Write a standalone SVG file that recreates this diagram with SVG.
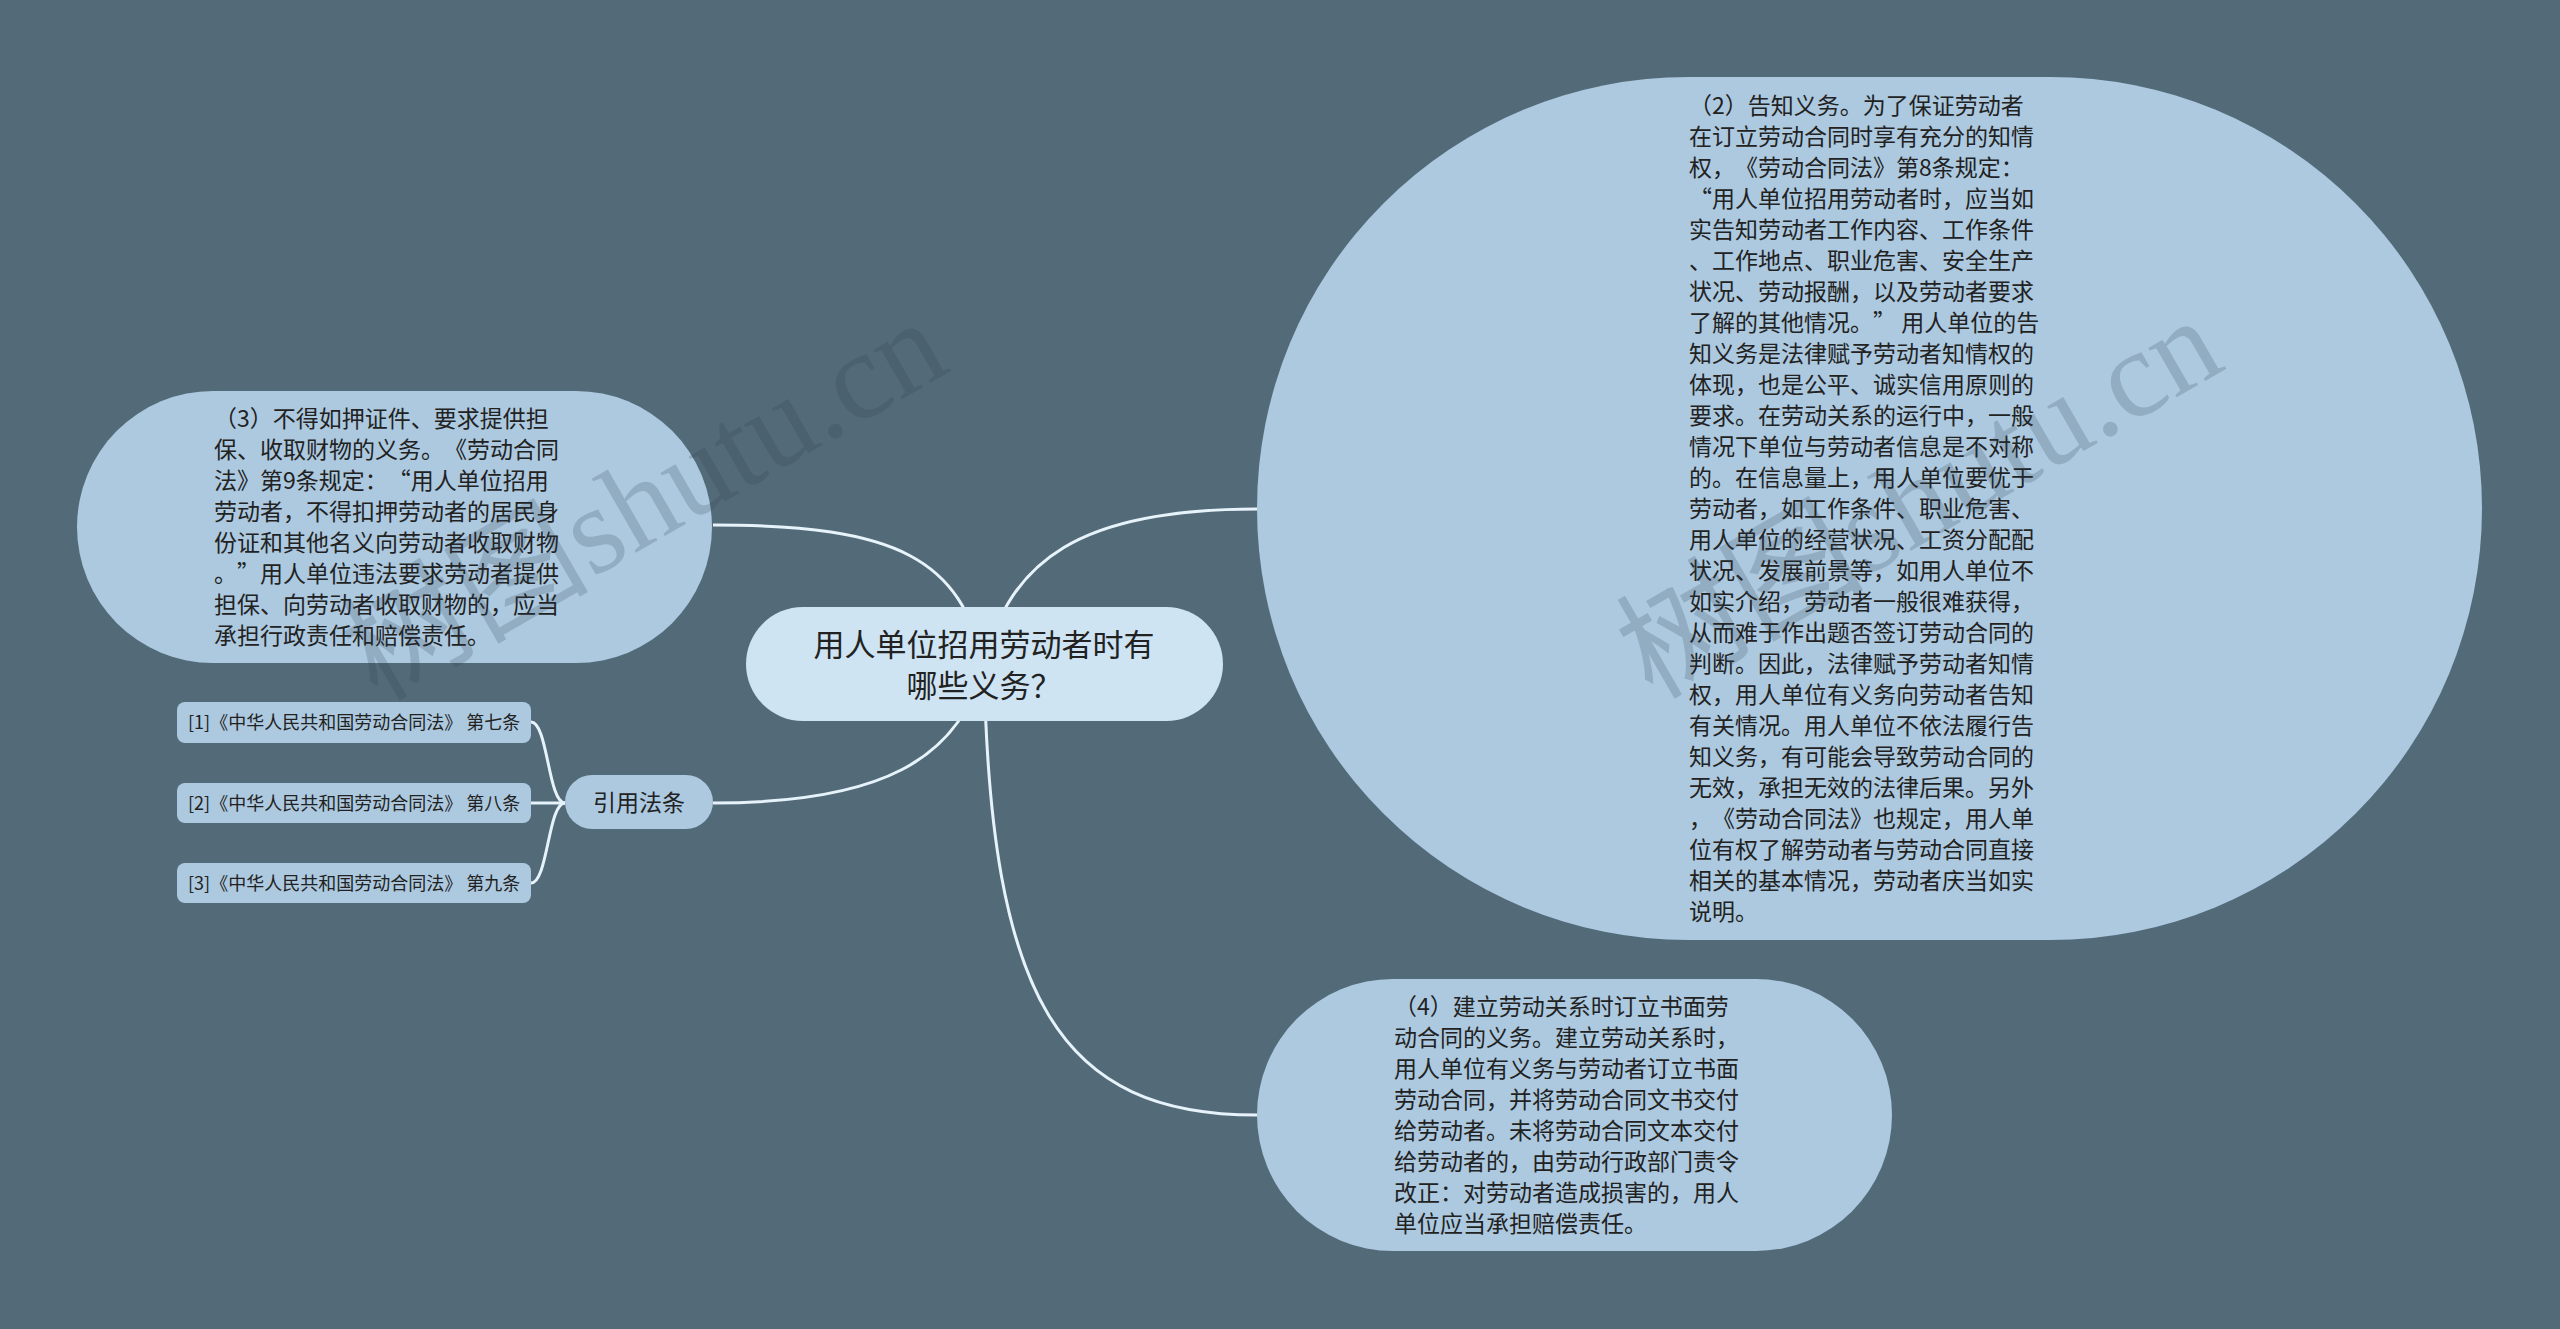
<svg xmlns="http://www.w3.org/2000/svg" width="2560" height="1329" viewBox="0 0 2560 1329">
<style>
.bg{fill:#536a79}
.node{fill:#acc9e0}
.root{fill:#cee4f2}
text{text-spacing-trim:space-all}
.t{font-family:"Noto Sans CJK SC","Noto Sans",sans-serif;fill:#222;font-size:23px}
.rt{font-family:"Noto Sans CJK SC","Noto Sans",sans-serif;fill:#222;font-size:31px}
.ref{font-family:"Noto Sans CJK SC","Noto Sans",sans-serif;fill:#222;font-size:18px}
.link{fill:none;stroke:#e6f3fa;stroke-width:3}
.wm{font-family:"Liberation Serif","Noto Sans CJK SC",serif;font-size:124px;fill:#2c3e50;opacity:0.2}
</style>
<rect class="bg" x="0" y="0" width="2560" height="1329"/>
<g id="connectors">
<path class="link" d="M984,664 C960,560 900,525 713,525"/>
<path class="link" d="M984,664 C1010,560 1080,509 1257,509"/>
<path class="link" d="M984,664 C990,1000 1060,1115 1257,1115"/>
<path class="link" d="M984,664 C960,760 880,803 713,803"/>
<path class="link" d="M565,803 C548,803 548,722 531,722"/>
<path class="link" d="M565,803 L531,803"/>
<path class="link" d="M565,803 C548,803 548,883 531,883"/>
</g>
<g id="node-root">
<rect class="root" x="746" y="607" width="477" height="114" rx="57"/>
<text class="rt" x="984" y="656" text-anchor="middle">用人单位招用劳动者时有</text>
<text class="rt" x="984" y="697" text-anchor="middle">哪些义务？</text>
</g>
<g id="node-2">
<rect class="node" x="1257" y="77" width="1225" height="863" rx="431.5"/>
<text class="t">
<tspan x="1689" y="114">（2）告知义务。为了保证劳动者</tspan>
<tspan x="1689" y="145">在订立劳动合同时享有充分的知情</tspan>
<tspan x="1689" y="176">权，《劳动合同法》第8条规定：</tspan>
<tspan x="1689" y="207">“用人单位招用劳动者时，应当如</tspan>
<tspan x="1689" y="238">实告知劳动者工作内容、工作条件</tspan>
<tspan x="1689" y="269">、工作地点、职业危害、安全生产</tspan>
<tspan x="1689" y="300">状况、劳动报酬，以及劳动者要求</tspan>
<tspan x="1689" y="331">了解的其他情况。” 用人单位的告</tspan>
<tspan x="1689" y="362">知义务是法律赋予劳动者知情权的</tspan>
<tspan x="1689" y="393">体现，也是公平、诚实信用原则的</tspan>
<tspan x="1689" y="424">要求。在劳动关系的运行中，一般</tspan>
<tspan x="1689" y="455">情况下单位与劳动者信息是不对称</tspan>
<tspan x="1689" y="486">的。在信息量上，用人单位要优于</tspan>
<tspan x="1689" y="517">劳动者，如工作条件、职业危害、</tspan>
<tspan x="1689" y="548">用人单位的经营状况、工资分配配</tspan>
<tspan x="1689" y="579">状况、发展前景等，如用人单位不</tspan>
<tspan x="1689" y="610">如实介绍，劳动者一般很难获得，</tspan>
<tspan x="1689" y="641">从而难于作出题否签订劳动合同的</tspan>
<tspan x="1689" y="672">判断。因此，法律赋予劳动者知情</tspan>
<tspan x="1689" y="703">权，用人单位有义务向劳动者告知</tspan>
<tspan x="1689" y="734">有关情况。用人单位不依法履行告</tspan>
<tspan x="1689" y="765">知义务，有可能会导致劳动合同的</tspan>
<tspan x="1689" y="796">无效，承担无效的法律后果。另外</tspan>
<tspan x="1689" y="827">，《劳动合同法》也规定，用人单</tspan>
<tspan x="1689" y="858">位有权了解劳动者与劳动合同直接</tspan>
<tspan x="1689" y="889">相关的基本情况，劳动者庆当如实</tspan>
<tspan x="1689" y="920">说明。</tspan>
</text>
</g>
<g id="node-3">
<rect class="node" x="77" y="391" width="635" height="272" rx="136"/>
<text class="t">
<tspan x="214" y="427">（3）不得如押证件、要求提供担</tspan>
<tspan x="214" y="458">保、收取财物的义务。《劳动合同</tspan>
<tspan x="214" y="489">法》第9条规定：“用人单位招用</tspan>
<tspan x="214" y="520">劳动者，不得扣押劳动者的居民身</tspan>
<tspan x="214" y="551">份证和其他名义向劳动者收取财物</tspan>
<tspan x="214" y="582">。”用人单位违法要求劳动者提供</tspan>
<tspan x="214" y="613">担保、向劳动者收取财物的，应当</tspan>
<tspan x="214" y="644">承担行政责任和赔偿责任。</tspan>
</text>
</g>
<g id="node-4">
<rect class="node" x="1257" y="979" width="635" height="272" rx="136"/>
<text class="t">
<tspan x="1394" y="1015">（4）建立劳动关系时订立书面劳</tspan>
<tspan x="1394" y="1046">动合同的义务。建立劳动关系时，</tspan>
<tspan x="1394" y="1077">用人单位有义务与劳动者订立书面</tspan>
<tspan x="1394" y="1108">劳动合同，并将劳动合同文书交付</tspan>
<tspan x="1394" y="1139">给劳动者。未将劳动合同文本交付</tspan>
<tspan x="1394" y="1170">给劳动者的，由劳动行政部门责令</tspan>
<tspan x="1394" y="1201">改正：对劳动者造成损害的，用人</tspan>
<tspan x="1394" y="1232">单位应当承担赔偿责任。</tspan>
</text>
</g>
<g id="node-refs">
<rect class="node" x="565" y="775" width="148" height="54" rx="27"/>
<text class="t" x="639" y="811" text-anchor="middle">引用法条</text>
</g>
<g id="node-ref1">
<rect class="node" x="177" y="702" width="354" height="41" rx="8"/>
<text class="ref" x="188" y="729">[1]《中华人民共和国劳动合同法》 第七条</text>
</g>
<g id="node-ref2">
<rect class="node" x="177" y="783" width="354" height="40" rx="8"/>
<text class="ref" x="188" y="810">[2]《中华人民共和国劳动合同法》 第八条</text>
</g>
<g id="node-ref3">
<rect class="node" x="177" y="863" width="354" height="40" rx="8"/>
<text class="ref" x="188" y="890">[3]《中华人民共和国劳动合同法》 第九条</text>
</g>
<text class="wm" x="665" y="536" text-anchor="middle" transform="rotate(-30 665 536)">树图shutu.cn</text>
<text class="wm" x="1940" y="534" text-anchor="middle" transform="rotate(-30 1940 534)">树图shutu.cn</text>
</svg>
